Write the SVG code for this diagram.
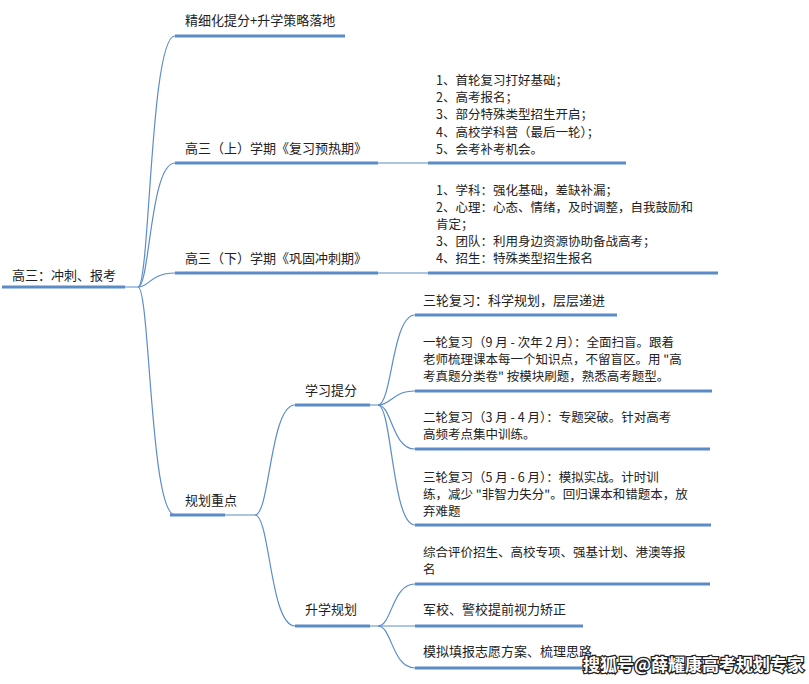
<svg xmlns="http://www.w3.org/2000/svg" width="809" height="684" viewBox="0 0 809 684">
<style>
text{font-family:"Noto Sans CJK SC","Liberation Sans",sans-serif;font-size:13px;fill:#222}
.m{font-size:12.5px}
.u{stroke:#5b8cc8;stroke-width:3;fill:none}
.c{stroke:#5b8cc8;stroke-width:1.2;fill:none}
.wm{font-size:17px;font-weight:bold;fill:#fff;stroke:#222;stroke-width:2.5;paint-order:stroke}
</style>
<rect width="809" height="684" fill="#fff"/>
<g id="connectors">
<path class="c" d="M125,287 H138 C150,287 150,36 175,36"/>
<path class="c" d="M138,287 C150,287 150,163 175,163"/>
<path class="c" d="M138,287 C150,287 150,273 175,273"/>
<path class="c" d="M138,287 C150,287 150,515 175,515"/>
<path class="c" d="M378,163 H428"/>
<path class="c" d="M378,273 H428"/>
<path class="c" d="M225,515 H255 C270,515 270,405 295,405"/>
<path class="c" d="M255,515 C270,515 270,626 295,626"/>
<path class="c" d="M370,405 H378 C392,405 392,315 415,315"/>
<path class="c" d="M378,405 C392,405 392,391 415,391"/>
<path class="c" d="M378,405 C392,405 392,449 415,449"/>
<path class="c" d="M378,405 C392,405 392,525 415,525"/>
<path class="c" d="M370,626 H378 C392,626 392,584 415,584"/>
<path class="c" d="M378,626 H415"/>
<path class="c" d="M378,626 C392,626 392,668 415,668"/>
</g>
<g id="root"><text x="12" y="280">高三：冲刺、报考</text><path class="u" d="M2,287 H125"/></g>
<g id="n1"><text x="185" y="25">精细化提分+升学策略落地</text><path class="u" d="M175,36 H345"/></g>
<g id="n2"><text x="185" y="153">高三（上）学期《复习预热期》</text><path class="u" d="M175,163 H378"/></g>
<g id="n3"><text x="185" y="263">高三（下）学期《巩固冲刺期》</text><path class="u" d="M175,273 H378"/></g>
<g id="n4"><text x="185" y="505">规划重点</text><path class="u" d="M170,515 H225"/></g>
<g id="n2a" class="m"><text class="m" x="436" y="85">1、首轮复习打好基础；</text><text class="m" x="436" y="102">2、高考报名；</text><text class="m" x="436" y="119">3、部分特殊类型招生开启；</text><text class="m" x="436" y="137">4、高校学科营（最后一轮）；</text><text class="m" x="436" y="154">5、会考补考机会。</text><path class="u" d="M428,163 H626"/></g>
<g id="n3a"><text class="m" x="436" y="195">1、学科：强化基础，差缺补漏；</text><text class="m" x="436" y="212">2、心理：心态、情绪，及时调整，自我鼓励和</text><text class="m" x="436" y="229">肯定；</text><text class="m" x="436" y="246">3、团队：利用身边资源协助备战高考；</text><text class="m" x="436" y="263">4、招生：特殊类型招生报名</text><path class="u" d="M428,273 H718"/></g>
<g id="n41"><text x="305" y="395">学习提分</text><path class="u" d="M295,405 H370"/></g>
<g id="n42"><text x="305" y="614">升学规划</text><path class="u" d="M295,626 H370"/></g>
<g id="l1"><text x="423" y="305">三轮复习：科学规划，层层递进</text><path class="u" d="M415,315 H617"/></g>
<g id="l2"><text class="m" x="423" y="347">一轮复习（9 月 - 次年 2 月）：全面扫盲。跟着</text><text class="m" x="423" y="364">老师梳理课本每一个知识点，不留盲区。用 "高</text><text class="m" x="423" y="381">考真题分类卷" 按模块刷题，熟悉高考题型。</text><path class="u" d="M415,391 H712"/></g>
<g id="l3"><text class="m" x="423" y="422">二轮复习（3 月 - 4 月）：专题突破。针对高考</text><text class="m" x="423" y="439">高频考点集中训练。</text><path class="u" d="M415,449 H710"/></g>
<g id="l4"><text class="m" x="423" y="482">三轮复习（5 月 - 6 月）：模拟实战。计时训</text><text class="m" x="423" y="499">练，减少 "非智力失分"。回归课本和错题本，放</text><text class="m" x="423" y="516">弃难题</text><path class="u" d="M415,525 H711"/></g>
<g id="l5"><text class="m" x="423" y="557">综合评价招生、高校专项、强基计划、港澳等报</text><text class="m" x="423" y="574">名</text><path class="u" d="M415,584 H710"/></g>
<g id="l6"><text x="423" y="614">军校、警校提前视力矫正</text><path class="u" d="M415,626 H583"/></g>
<g id="l7"><text x="423" y="656">模拟填报志愿方案、梳理思路</text><path class="u" d="M415,668 H590"/></g>
<text class="wm" x="583" y="671">搜狐号@薛耀康高考规划专家</text>
</svg>
